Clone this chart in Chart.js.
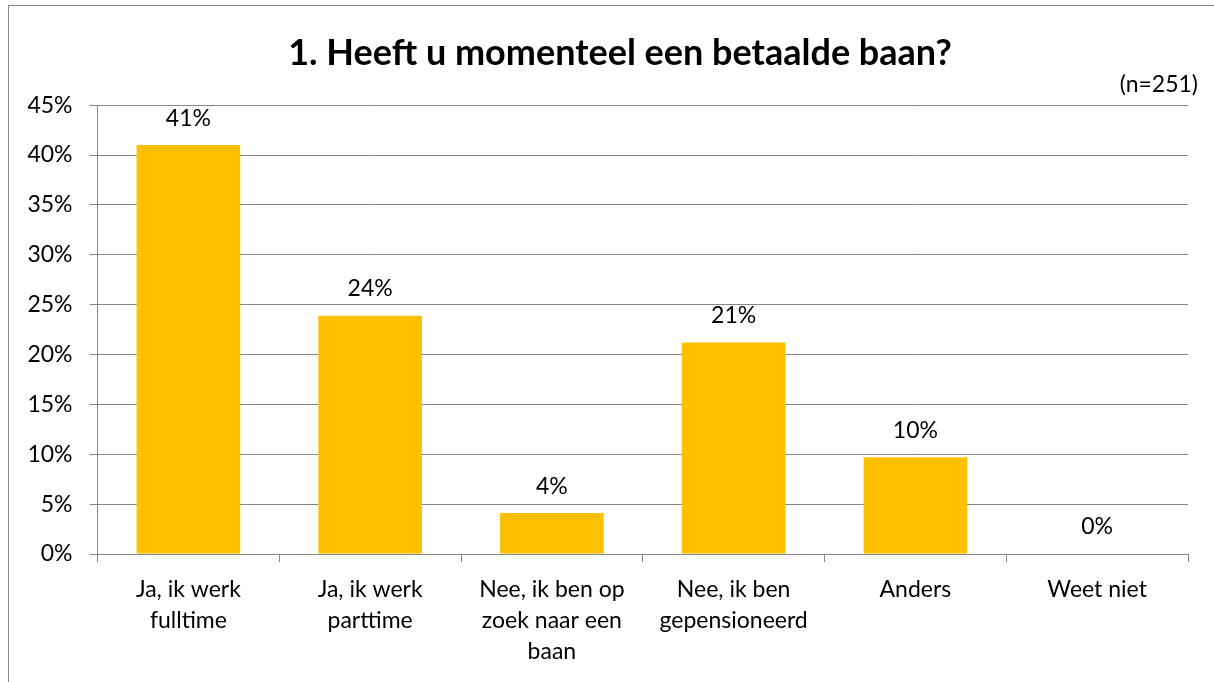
<!DOCTYPE html>
<html>
<head>
<meta charset="utf-8">
<script src="https://cdn.jsdelivr.net/npm/chart.js@4"></script>
<style>
  html, body { margin: 0; padding: 0; background: #fff; }
  #wrap { position: relative; width: 1214px; height: 682px; overflow: hidden; }
  #frame {
    position: absolute; left: 8px; top: 5px; width: 1300px; height: 800px;
    border-left: 1px solid #868686; border-top: 1px solid #868686;
  }
  canvas { position: absolute; left: 0; top: 0; }
</style>
</head>
<body>
<div id="wrap">
  <div id="frame"></div>
  <!-- the chart object runs a bit past the window on the right, like the original -->
  <canvas id="chart" width="1240" height="682"></canvas>
</div>
<script>
// chart data
const categories = [
  ['Ja, ik werk', 'fulltime'],
  ['Ja, ik werk', 'parttime'],
  ['Nee, ik ben op', 'zoek naar een', 'baan'],
  ['Nee, ik ben', 'gepensioneerd'],
  'Anders',
  'Weet niet'
];
const values = [41.0, 23.9, 4.1, 21.2, 9.7, 0];
const valueLabels = ['41%', '24%', '4%', '21%', '10%', '0%'];
const yTicks = [0, 5, 10, 15, 20, 25, 30, 35, 40, 45];
const sampleNote = '(n=251)';

const FONT = 'Lato, "Open Sans", sans-serif';
const GRID = '#868686';

// data labels above each bar + the sample size note
const barLabels = {
  id: 'barLabels',
  afterDatasetsDraw(chart) {
    const ctx = chart.ctx;
    const meta = chart.getDatasetMeta(0);
    ctx.save();
    ctx.font = '23px ' + FONT;
    ctx.fillStyle = '#000';
    ctx.textAlign = 'center';
    ctx.textBaseline = 'middle';
    meta.data.forEach((bar, i) => {
      ctx.fillText(valueLabels[i], bar.x, bar.y - 27);
    });
    ctx.textAlign = 'right';
    ctx.fillText(sampleNote, chart.chartArea.right + 10, chart.chartArea.top - 21);
    ctx.restore();
  }
};

new Chart(document.getElementById('chart'), {
  type: 'bar',
  data: {
    labels: categories,
    datasets: [{
      data: values,
      backgroundColor: '#FFC000',
      borderWidth: 0,
      categoryPercentage: 1,
      barPercentage: 0.57
    }]
  },
  options: {
    responsive: false,
    animation: false,
    layout: { padding: 0 },
    plugins: {
      legend: { display: false },
      tooltip: { enabled: false },
      title: {
        display: true,
        text: '1. Heeft u momenteel een betaalde baan?',
        color: '#000',
        font: { family: FONT, size: 36, weight: 'bold' },
        padding: { top: 32, bottom: 30 }
      }
    },
    scales: {
      x: {
        grid: {
          offset: true,
          drawOnChartArea: false,
          drawTicks: true,
          tickLength: 8,
          color: GRID
        },
        border: { color: GRID },
        ticks: {
          color: '#000',
          font: { family: FONT, size: 23, lineHeight: 1.35 },
          padding: 12,
          maxRotation: 0,
          autoSkip: false
        },
        afterFit(scale) { scale.height = 128; }
      },
      y: {
        min: 0,
        max: 45,
        afterBuildTicks(scale) { scale.ticks = yTicks.map(v => ({ value: v })); },
        grid: { color: GRID, tickLength: 8 },
        border: { color: GRID },
        ticks: {
          color: '#000',
          font: { family: FONT, size: 23 },
          padding: 17,
          callback: v => v + '%'
        },
        afterFit(scale) { scale.width = 97.5; }
      },
      // empty right-hand margin so the plot ends where the original does
      spacer: {
        position: 'right',
        grid: { display: false },
        border: { display: false },
        ticks: { display: false },
        afterFit(scale) { scale.width = 52; }
      }
    }
  },
  plugins: [barLabels]
});
</script>
</body>
</html>
